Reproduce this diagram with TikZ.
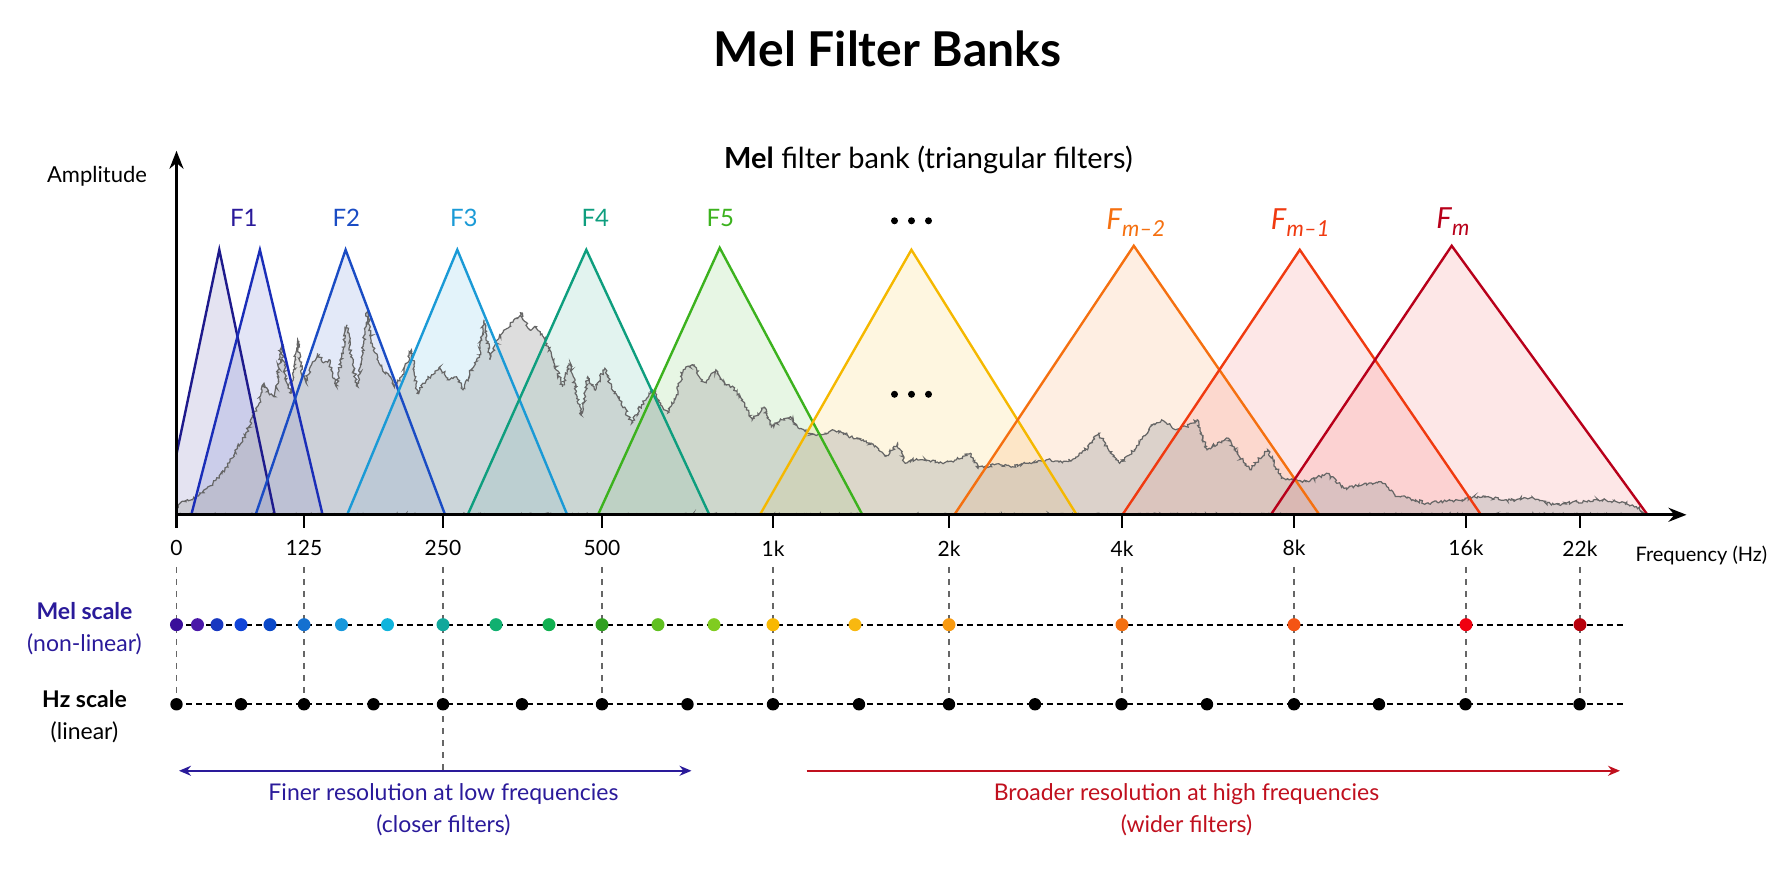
\documentclass[tikz,border=0pt]{standalone}
\usepackage{fontspec}
\setmainfont{Lato}
\usetikzlibrary{arrows.meta}
\usetikzlibrary{decorations.pathmorphing}

% filter colours
\definecolor{navyblue}{HTML}{1E1A8C}
\definecolor{deepblue}{HTML}{1A2DB8}
\definecolor{royalblue}{HTML}{1A4CC4}
\definecolor{skyblue}{HTML}{1A9AD6}
\definecolor{tealgreen}{HTML}{0E9E7E}
\definecolor{leafgreen}{HTML}{3CB21E}
\definecolor{amber}{HTML}{F5B800}
\definecolor{tangerine}{HTML}{F57010}
\definecolor{vermilion}{HTML}{F03A10}
\definecolor{crimson}{HTML}{B8001A}
\definecolor{pinkfill}{HTML}{F23A3A}
\definecolor{indigotext}{HTML}{2A1A9A}
\definecolor{redtext}{HTML}{C0101E}
\definecolor{specline}{HTML}{666666}
% mel scale dots
\definecolor{mel1}{HTML}{3A0E9A}
\definecolor{mel2}{HTML}{4A18A8}
\definecolor{mel3}{HTML}{1838C0}
\definecolor{mel4}{HTML}{1044D8}
\definecolor{mel5}{HTML}{0A48C8}
\definecolor{mel6}{HTML}{1470D0}
\definecolor{mel7}{HTML}{1898DC}
\definecolor{mel8}{HTML}{10B4DC}
\definecolor{mel9}{HTML}{10A89C}
\definecolor{mel10}{HTML}{10B070}
\definecolor{mel11}{HTML}{10B050}
\definecolor{mel12}{HTML}{30A020}
\definecolor{mel13}{HTML}{60C020}
\definecolor{mel14}{HTML}{80CC20}
\definecolor{mel15}{HTML}{F8B800}
\definecolor{mel16}{HTML}{F8B810}
\definecolor{mel17}{HTML}{F89A10}
\definecolor{mel18}{HTML}{F47010}
\definecolor{mel19}{HTML}{F45414}
\definecolor{mel20}{HTML}{F00010}
\definecolor{mel21}{HTML}{B8000C}

\newcommand{\filtsub}[1]{\textit{F}\raisebox{-0.45ex}{\fontsize{11}{12}\selectfont\itshape #1}}

\tikzset{
  axis/.style={line width=1.4pt, -{Stealth[length=9pt, width=7pt]}},
  tickmark/.style={line width=1.1pt},
  ticklab/.style={font=\fontsize{10.5}{12}\selectfont},
  guide/.style={black!60, line width=0.6pt, dash pattern=on 3pt off 3pt},
  scaleline/.style={black, line width=0.9pt, dash pattern=on 3pt off 2pt},
  filtline/.style={line width=1.2pt, line join=miter},
  filtlab/.style={font=\fontsize{12}{14}\selectfont},
  rowlab/.style={align=center, font=\fontsize{11.5}{16.3}\selectfont},
  notelab/.style={align=center, font=\fontsize{11.5}{16}\selectfont},
}

\begin{document}
\begin{tikzpicture}[x=5pt, y=5pt]
    % Fix the page size
    \useasboundingbox (-17.65,-37.22) rectangle (159.75,51.48);

    % Titles
    \node[font=\bfseries\fontsize{24}{28}\selectfont] (title) at (71.1,46.6) {Mel Filter Banks};
    \node[font=\fontsize{14.5}{17}\selectfont] (subtitle) at (75.2,35.5) {\textbf{Mel} filter bank (triangular filters)};

    % Triangle fills
    \begin{scope}
        \clip (0,0) rectangle (150,30);
        \foreach \l/\p/\r/\h/\c in {-1.27/4.28/9.83/26.5/navyblue, 1.48/8.34/14.61/26.5/deepblue,
            7.91/16.91/26.86/26.5/royalblue, 17.06/28.08/39.07/26.5/skyblue,
            29.12/40.98/53.29/26.5/tealgreen, 42.15/54.32/68.59/26.7/leafgreen,
            58.34/73.49/90.02/26.5/amber, 77.78/95.73/114.29/26.9/tangerine,
            94.59/112.33/130.45/26.5/pinkfill, 109.43/127.52/147.1/26.9/pinkfill}
            \fill[\c, fill opacity=0.12] (\l,0) -- (\p,\h) -- (\r,0) -- cycle;

        % Spectrum
        \pgfmathsetseed{11}
        \draw[specline, line width=0.6pt, fill=black!35, fill opacity=0.38,
            decorate, decoration={random steps, segment length=0.8pt, amplitude=0.8pt}]
            (0,0) -- plot coordinates {(0,0.6) (0.34,1.15) (1.2,1.4) (2.25,1.98) (3.4,2.9) (4.55,4.15)
            (5.3,5.2) (6.08,6.8) (6.9,8.0) (7.6,9.8) (8.2,11.0) (8.75,13.15) (9.3,12.0) (9.9,11.8)
            (10.48,17.15) (10.9,13.8) (11.44,12.15) (12.12,17.5) (12.5,14.5) (12.95,13.2) (13.5,15.0)
            (14.1,16.15) (14.7,15.2) (15.25,15.5) (15.6,14.0) (16.0,12.8) (17.06,19.0) (17.6,15.0)
            (18.13,12.8) (19.09,20.3) (19.6,17.0) (20.62,14.5) (21.2,14.0) (21.77,12.8) (22.6,14.0)
            (23.49,16.5) (24.06,12.15) (25.0,13.5) (25.6,14.0) (26.35,14.8) (27.2,13.5) (28.0,13.8)
            (28.65,12.5) (29.8,15.2) (30.3,16.0) (30.76,19.5) (31.34,15.5) (32.1,17.5) (33.0,18.6)
            (34.4,20.2) (35.3,18.5) (36.0,18.8) (36.69,17.8) (37.5,16.0) (38.61,12.8) (39.37,15.2)
            (40.45,9.98) (41.12,13.8) (41.8,12.5) (42.84,14.65) (43.5,12.6) (44.18,11.8) (45.52,9.15)
            (46.5,11.0) (47.62,12.5) (48.4,11.0) (49.15,10.2) (50.0,12.0) (50.68,14.5) (51.83,15.0)
            (52.4,13.6) (52.98,13.2) (53.94,14.5) (54.8,13.0) (55.66,12.8) (56.6,11.5) (57.57,9.5)
            (58.72,10.8) (59.49,8.8) (60.5,9.5) (61.4,9.8) (62.3,8.6) (63.31,8.15) (64.5,8.0)
            (65.6,8.5) (66.75,8.15) (67.7,7.6) (68.67,7.5) (69.8,6.8) (70.97,5.8) (72.11,7.15)
            (72.88,5.15) (74.0,5.6) (75.3,5.4) (76.71,5.15) (78.0,5.5) (79.39,6.15) (80.15,4.65)
            (81.8,5.0) (83.6,4.8) (85.3,5.2) (87.04,5.5) (88.6,5.2) (90.1,5.8) (91.2,6.8) (92.21,8.15)
            (93.2,6.5) (94.31,5.15) (95.8,6.5) (97.37,8.8) (98.52,9.5) (99.92,8.5) (101.0,8.8)
            (102.07,9.5) (103.05,6.5) (104.1,7.2) (105.2,7.65) (106.3,5.8) (107.35,4.5) (108.2,5.5)
            (109.12,6.5) (110.49,3.65) (111.8,3.5) (113.23,3.3) (114.99,4.15) (116.75,2.65) (118.6,3.0)
            (120.47,3.3) (121.84,1.98) (123.4,1.6) (124.97,1.15) (127.8,1.4) (130.65,1.88) (133.1,1.4)
            (135.55,1.8) (137.5,0.98) (140.0,1.3) (142.59,1.48) (144.55,1.3) (146.0,0.8) (146.9,0.15)}
            -- (146.9,0) -- cycle;

        % Triangle outlines
        \foreach \l/\p/\r/\h/\c in {-1.27/4.28/9.83/26.5/navyblue, 1.48/8.34/14.61/26.5/deepblue,
            7.91/16.91/26.86/26.5/royalblue, 17.06/28.08/39.07/26.5/skyblue,
            29.12/40.98/53.29/26.5/tealgreen, 42.15/54.32/68.59/26.7/leafgreen,
            58.34/73.49/90.02/26.5/amber, 77.78/95.73/114.29/26.9/tangerine,
            94.59/112.33/130.45/26.5/vermilion, 109.43/127.52/147.1/26.9/crimson}
            \draw[filtline, \c] (\l,0) -- (\p,\h) -- (\r,0);
    \end{scope}

    % Filter labels
    \node[filtlab, text=indigotext] (f1) at (6.73,29.7) {F1};
    \node[filtlab, text=royalblue] (f2) at (16.98,29.7) {F2};
    \node[filtlab, text=skyblue] (f3) at (28.73,29.7) {F3};
    \node[filtlab, text=tealgreen] (f4) at (41.88,29.7) {F4};
    \node[filtlab, text=leafgreen] (f5) at (54.39,29.7) {F5};
    \node[font=\fontsize{14.5}{16}\selectfont, text=tangerine] (fm2) at (95.92,29.2) {\filtsub{m–2}};
    \node[font=\fontsize{14.5}{16}\selectfont, text=vermilion] (fm1) at (112.37,29.2) {\filtsub{m–1}};
    \node[font=\fontsize{14.5}{16}\selectfont, text=crimson] (fm) at (127.64,29.3) {\filtsub{m}};
    \foreach \d in {-1.7,0,1.7} {
        \fill (73.5+\d,29.4) circle (0.35);
        \fill (73.5+\d,12.05) circle (0.35);
    }

    % Axes
    \coordinate (O) at (0,0);
    \coordinate (ytop) at (0,36.4);
    \coordinate (xend) at (151,0);
    \draw[axis] (O) -- (ytop);
    \draw[axis] (O) -- (xend);
    \node[font=\fontsize{11}{13}\selectfont] (amp) at (-7.95,33.9) {Amplitude};
    \node[font=\fontsize{10}{12}\selectfont, anchor=west] (freq) at (145.2,-4.1) {Frequency (Hz)};

    % Ticks, labels and guides
    \draw[guide] (26.65,-18.95) -- (26.65,-25.6);
    \foreach \x/\t in {0/0, 12.75/125, 26.65/250, 42.55/500, 59.65/1k, 77.25/2k,
        94.55/4k, 111.75/8k, 128.95/16k, 140.35/22k} {
        \draw[tickmark] (\x,0) -- (\x,-1.3);
        \node[ticklab] (t\t) at (\x,-3.35) {\t};
        \draw[guide] (\x,-5.2) -- (\x,-18.95);
    }

    % Mel scale row
    \draw[scaleline] (0,-10.99) -- (144.65,-10.99);
    \foreach \x/\c in {0/mel1, 2.1/mel2, 4.05/mel3, 6.45/mel4, 9.35/mel5, 12.75/mel6, 16.5/mel7,
        21.1/mel8, 26.65/mel9, 31.95/mel10, 37.25/mel11, 42.55/mel12, 48.15/mel13, 53.75/mel14,
        59.65/mel15, 67.85/mel16, 77.25/mel17, 94.55/mel18, 111.75/mel19, 128.95/mel20, 140.35/mel21}
        \fill[\c] (\x,-10.99) circle (0.65);
    \node[rowlab, text=indigotext] (mel) at (-9.2,-11.4) {\textbf{Mel scale}\\(non-linear)};

    % Hz scale row
    \draw[scaleline] (0,-18.95) -- (144.65,-18.95);
    \foreach \x in {0, 6.45, 12.75, 19.7, 26.65, 34.55, 42.55, 51.1, 59.65, 68.25, 77.25,
        85.85, 94.5, 103.05, 111.75, 120.25, 128.9, 140.3}
        \fill (\x,-18.95) circle (0.62);
    \node[rowlab] (hz) at (-9.2,-20.2) {\textbf{Hz scale}\\(linear)};

    % Resolution notes
    \coordinate (finel) at (0.25,-25.6);
    \coordinate (finer) at (51.5,-25.6);
    \coordinate (broadl) at (63.0,-25.6);
    \coordinate (broadr) at (144.35,-25.6);
    \draw[indigotext, line width=0.9pt, {Stealth[length=6pt, width=5pt]}-{Stealth[length=6pt, width=5pt]}] (finel) -- (finer);
    \draw[redtext, line width=0.9pt, -{Stealth[length=6pt, width=5pt]}] (broadl) -- (broadr);
    \node[notelab, text=indigotext] (fine) at (26.7,-29.5) {Finer resolution at low frequencies\\(closer filters)};
    \node[notelab, text=redtext] (broad) at (101.0,-29.5) {Broader resolution at high frequencies\\(wider filters)};
\end{tikzpicture}
\end{document}
